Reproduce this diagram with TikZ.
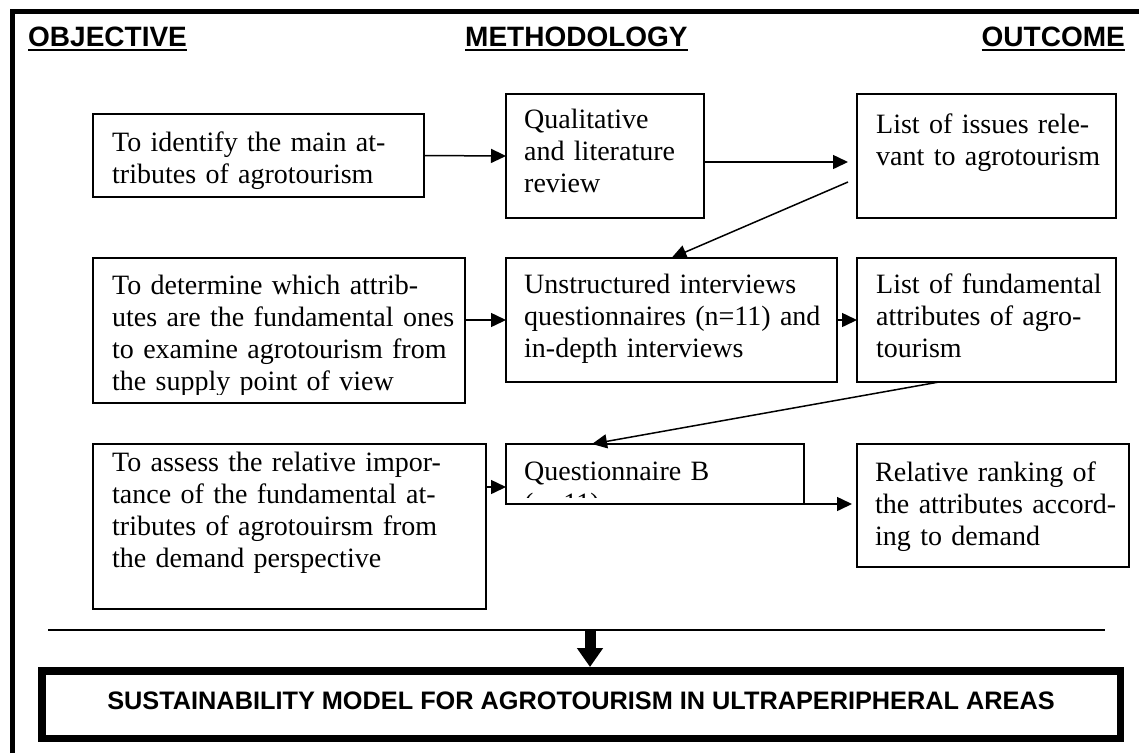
\documentclass[tikz,border=0pt]{standalone}
\usepackage{fontspec}
\setmainfont{Liberation Serif}
\newfontfamily\arialfam{Liberation Sans}
\usetikzlibrary{arrows.meta}
\begin{document}
\begin{tikzpicture}[x=1pt,y=-1pt,
  box/.style={draw,line width=1.5pt,inner sep=0pt,outer sep=0pt},
  txt/.style={anchor=base west,inner sep=0pt,align=left,text width=420pt,font=\fontsize{28}{32}\selectfont},
  head/.style={inner sep=0pt,font=\arialfam\bfseries\fontsize{28}{32}\selectfont},
  ul/.style={line width=2.5pt},
  arr/.style={line width=1.5pt,-{Triangle[length=15pt,width=14pt]}},
  bigarr/.style={line width=11pt,-{Triangle[length=19pt,width=25pt]}},
]
\useasboundingbox (0,0) rectangle (1139,753);
% outer frame (top and left visible)
\draw[line width=5pt] (12.5,753) -- (12.5,11) -- (1139,11);

% headings
\node[head,anchor=base west] (H1) at (28,46) {OBJECTIVE};
\node[head,anchor=base west] (H2) at (465,46) {METHODOLOGY};
\node[head,anchor=base east] (H3) at (1125,46) {OUTCOME};
\draw[ul] ([yshift=-4pt]H1.base west) -- ([yshift=-4pt]H1.base east);
\draw[ul] ([yshift=-4pt]H2.base west) -- ([yshift=-4pt]H2.base east);
\draw[ul] ([yshift=-4pt]H3.base west) -- ([yshift=-4pt]H3.base east);

% boxes
\node[box,minimum width=331pt,minimum height=83pt] (O1) at (258.5,155.5) {};
\node[box,minimum width=198pt,minimum height=124pt] (M1) at (605,156) {};
\node[box,minimum width=259pt,minimum height=124pt] (U1) at (986.5,156) {};
\node[box,minimum width=372pt,minimum height=145pt] (O2) at (279,330.5) {};
\node[box,minimum width=331pt,minimum height=124pt] (M2) at (671.5,320) {};
\node[box,minimum width=259pt,minimum height=124pt] (U2) at (986.5,320) {};
\node[box,minimum width=393pt,minimum height=165pt] (O3) at (289.5,526.5) {};
\node[box,minimum width=298pt,minimum height=60pt] (M3) at (655,474) {};
\node[box,minimum width=272pt,minimum height=123pt] (U3) at (993,505.5) {};

% texts
\node[txt] (O1t) at (112,151) {To identify the main at-\\tributes of agrotourism};
\node[txt] (M1t) at (524,128.5) {Qualitative\\and literature\\review};
\node[txt] (U1t) at (876,133.5) {List of issues rele-\\vant to agrotourism};
\begin{scope}
\clip (O2.north west) rectangle ([yshift=9pt]O2.south east);
\node[txt] (O2t) at (112,294) {To determine which attrib-\\utes are the fundamental ones\\to examine agrotourism from\\the supply point of view};
\end{scope}
\node[txt] (M2t) at (524,293.5) {Unstructured interviews\\questionnaires (n=11) and\\in-depth interviews};
\node[txt] (U2t) at (876,293.5) {List of fundamental\\attributes of agro-\\tourism};
\node[txt] (O3t) at (112,471.5) {To assess the relative impor-\\tance of the fundamental at-\\tributes of agrotouirsm from\\the demand perspective};
\begin{scope}
\clip (M3.north west) rectangle ([yshift=7pt]M3.south east);
\node[txt] (M3t) at (524,480.5) {Questionnaire B\\(n=11)};
\end{scope}
\node[txt] (U3t) at (875,481.5) {Relative ranking of\\the attributes accord-\\ing to demand};

% connectors
\draw[arr] (O1.east) -- (M1.west);
\coordinate (m1out) at ([yshift=-6pt]M1.east);
\coordinate (u1in) at ([xshift=-9pt,yshift=-6pt]U1.west);
\draw[arr] (m1out) -- (u1in);
\coordinate (u1out) at ([xshift=-9pt,yshift=-26pt]U1.west);
\draw[arr] (u1out) -- (M2.north);
\draw[arr] (O2.east |- M2.west) -- (M2.west);
\draw[arr] (M2.east) -- (U2.west);
\coordinate (u2out) at ([xshift=-47.5pt]U2.south);
\coordinate (m3in) at ([xshift=86pt]M3.north west);
\draw[arr] (u2out) -- (m3in);
\coordinate (q3) at ([yshift=-13pt]M3.west);
\draw[arr] (O3.east |- q3) -- (q3);
\coordinate (q3s) at ([xshift=-12pt]M3.south east);
\coordinate (u3in) at ([xshift=-5pt]U3.west);
\draw[arr] (q3s) -- (q3s -| u3in);

% separator and final box
\coordinate (sepL) at (48,630);
\coordinate (sepR) at (1105,630);
\draw[line width=1.5pt] (sepL) -- (sepR);
\node[draw,line width=7.5pt,inner sep=0pt,minimum width=1078.5pt,minimum height=67.5pt] (BOT) at (581,704.5) {};
\node[inner sep=0pt,anchor=base,font=\arialfam\bfseries\fontsize{25.3}{30}\selectfont] (title) at (581,709) {SUSTAINABILITY MODEL FOR AGROTOURISM IN ULTRAPERIPHERAL AREAS};
\coordinate (thk) at (590,630);
\draw[bigarr] (thk) -- (thk |- BOT.north);
\end{tikzpicture}
\end{document}
